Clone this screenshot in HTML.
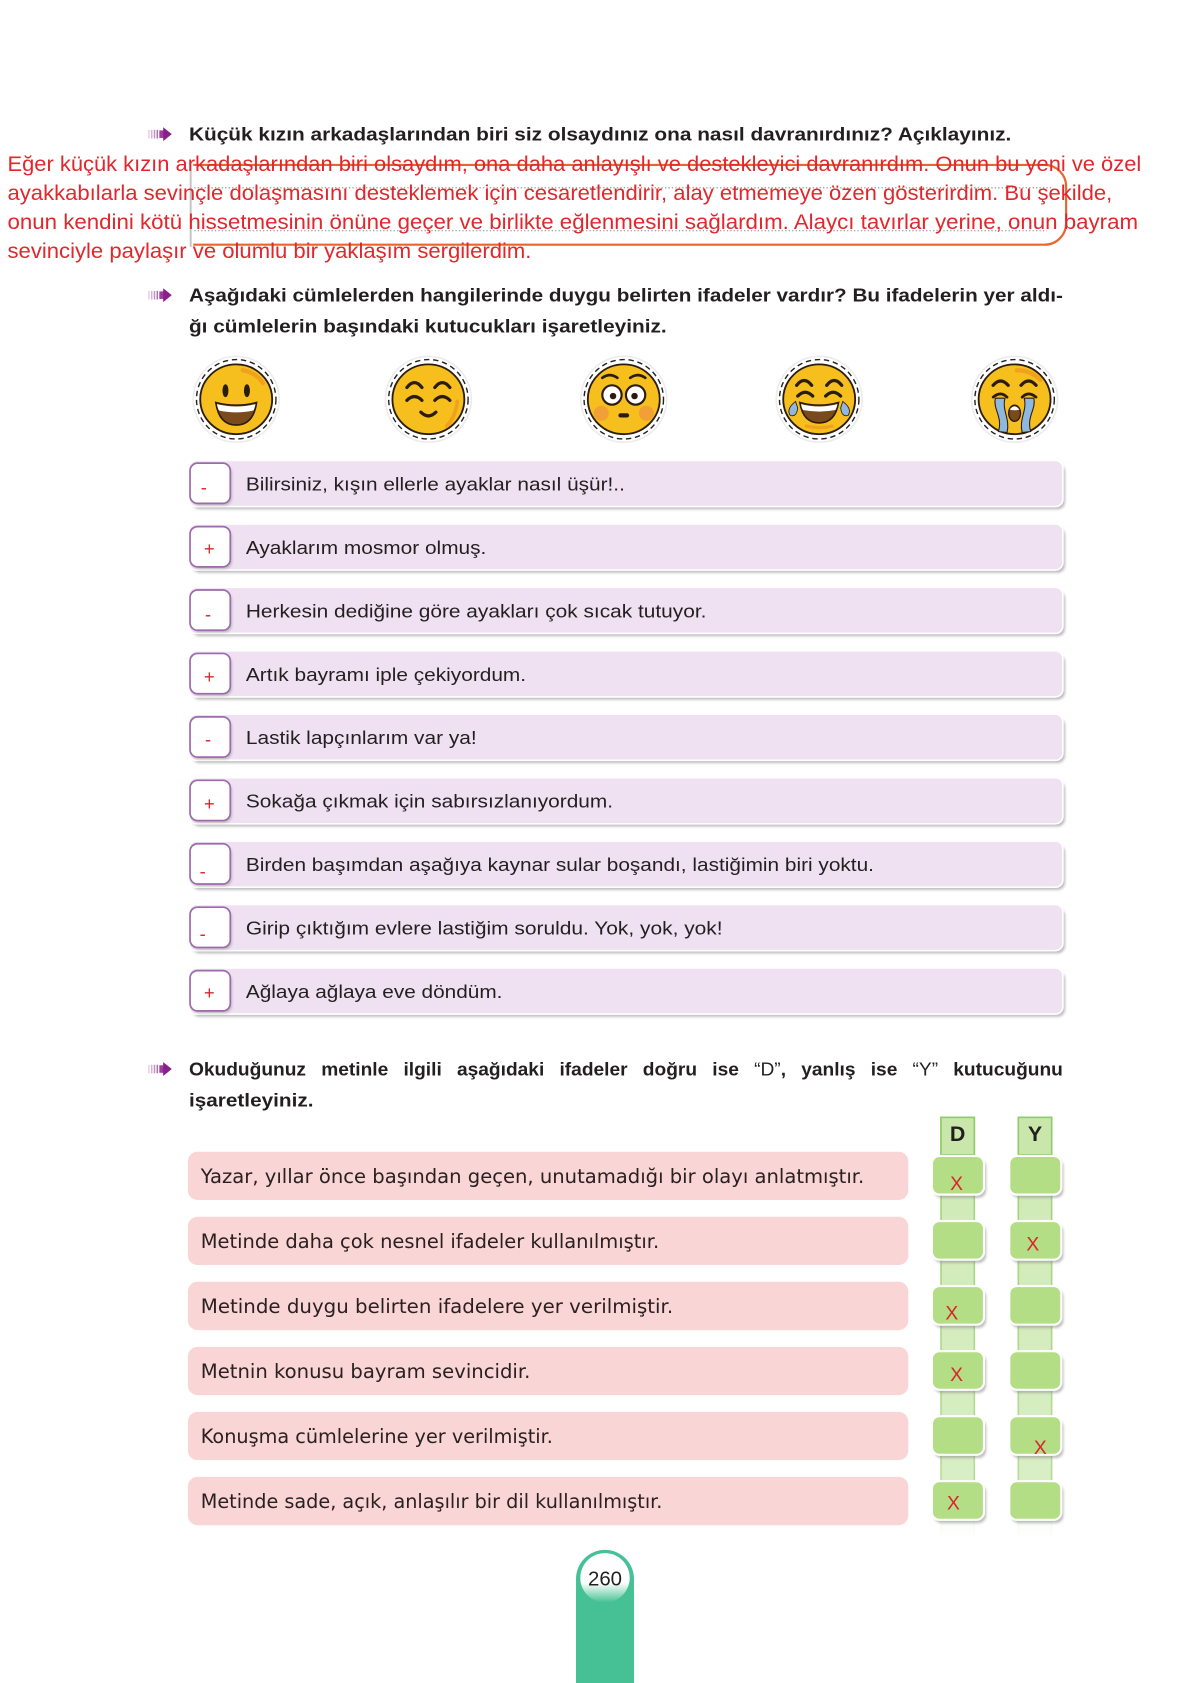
<!DOCTYPE html>
<html><head><meta charset="utf-8">
<style>
html,body{margin:0;padding:0;background:#fff;}
body{width:1181px;height:1683px;overflow:hidden;}
svg{display:block;}
.h{font-family:"Liberation Sans",Arial,sans-serif;font-weight:bold;fill:#231f20;}
.r{font-family:"Liberation Sans",Arial,sans-serif;fill:#e3262b;}
.t{font-family:"Liberation Sans",Arial,sans-serif;fill:#231f20;}
.p{font-family:"DejaVu Sans","Liberation Sans",sans-serif;fill:#2a2020;}
.s{font-family:"Liberation Sans",Arial,sans-serif;fill:#d8262b;}
</style></head><body>
<svg width="1181" height="1683" viewBox="0 0 1100 1568" preserveAspectRatio="none" xmlns="http://www.w3.org/2000/svg">
<defs>
  <filter id="sh" x="-5%" y="-30%" width="110%" height="170%"><feGaussianBlur stdDeviation="1.3"/></filter>
  <linearGradient id="strip" x1="0" x2="0" y1="0" y2="1"><stop offset="0" stop-color="#cfeab4"/><stop offset="0.85" stop-color="#d8eec4"/><stop offset="1" stop-color="#ffffff" stop-opacity="0"/></linearGradient>
  <linearGradient id="stripb" x1="0" x2="0" y1="0" y2="1"><stop offset="0" stop-color="#9dd077"/><stop offset="0.85" stop-color="#b5dd98"/><stop offset="1" stop-color="#ffffff" stop-opacity="0"/></linearGradient>
  <linearGradient id="circ" x1="0" x2="0" y1="0" y2="1"><stop offset="0" stop-color="#fff"/><stop offset="0.6" stop-color="#fff"/><stop offset="1" stop-color="#fff" stop-opacity="0"/></linearGradient>
  <g id="arrow">
    <rect x="0" y="-4" width="1.4" height="8" fill="#e6cde6"/>
    <rect x="2.6" y="-4" width="1.4" height="8" fill="#d7b0d7"/>
    <rect x="5.2" y="-4" width="1.4" height="8" fill="#c58fc5"/>
    <rect x="7.8" y="-4" width="1.4" height="8" fill="#b36db3"/>
    <rect x="10.4" y="-3.5" width="4" height="7" fill="#9b3f9b"/>
    <polygon points="14,-6.5 22,0 14,6.5" fill="#8a1e8a"/>
  </g>
  <g id="base">
    <circle r="40" fill="#fff" stroke="#ececec" stroke-width="1.5"/>
    <circle r="37" fill="none" stroke="#222" stroke-width="1.3" stroke-dasharray="5 3.5"/>
    <ellipse rx="33.5" ry="32.5" fill="#f6bf1e" stroke="#2b1d0e" stroke-width="1.7"/>
  </g>
  <g id="lrow">
    <rect x="179" y="3.5" width="813" height="42" rx="7" fill="#999" opacity="0.65" filter="url(#sh)"/>
    <rect x="176" y="0" width="814" height="43" rx="7" fill="#efe1f2" stroke="#fff" stroke-width="1.5"/>
    <rect x="179" y="5" width="37" height="37" rx="7" fill="#999" opacity="0.6" filter="url(#sh)"/>
    <rect x="177" y="2.5" width="37.5" height="37.5" rx="7" fill="#fff" stroke="#9d6bab" stroke-width="1.6"/>
  </g>
  <g id="gbox">
    <rect x="870" y="3" width="48.5" height="36" rx="7" fill="#888" opacity="0.55" filter="url(#sh)"/>
    <rect x="868" y="0" width="48.5" height="36" rx="7" fill="#b3de86" stroke="#fff" stroke-width="2"/>
    <rect x="942" y="3" width="48.5" height="36" rx="7" fill="#888" opacity="0.55" filter="url(#sh)"/>
    <rect x="940" y="0" width="48.5" height="36" rx="7" fill="#b3de86" stroke="#fff" stroke-width="2"/>
  </g>
</defs>

<!-- Q1 -->
<use href="#arrow" x="138" y="125"/>
<text class="h" x="176" y="131" font-size="17.5" textLength="766" lengthAdjust="spacingAndGlyphs">Küçük kızın arkadaşlarından biri siz olsaydınız ona nasıl davranırdınız? Açıklayınız.</text>

<!-- dotted lines & box -->
<line x1="181" y1="175" x2="979" y2="175" stroke="#888" stroke-width="1" stroke-dasharray="1.2 2"/>
<line x1="181" y1="215" x2="975" y2="215" stroke="#888" stroke-width="1" stroke-dasharray="1.2 2"/>
<line x1="177.6" y1="153" x2="177.6" y2="230" stroke="#c4c4c4" stroke-width="1.8"/>
<path d="M180,153.7 H973 A20,20 0 0 1 993,173.7 V208 A20,20 0 0 1 973,228 H180" fill="none" stroke="#e8652d" stroke-width="2"/>

<text class="r" x="7" y="159.5" font-size="20" textLength="1056" lengthAdjust="spacingAndGlyphs">Eğer küçük kızın arkadaşlarından biri olsaydım, ona daha anlayışlı ve destekleyici davranırdım. Onun bu yeni ve özel</text>
<text class="r" x="7" y="186.5" font-size="20" textLength="1029" lengthAdjust="spacingAndGlyphs">ayakkabılarla sevinçle dolaşmasını desteklemek için cesaretlendirir, alay etmemeye özen gösterirdim. Bu şekilde,</text>
<text class="r" x="7" y="213.5" font-size="20" textLength="1053" lengthAdjust="spacingAndGlyphs">onun kendini kötü hissetmesinin önüne geçer ve birlikte eğlenmesini sağlardım. Alaycı tavırlar yerine, onun bayram</text>
<text class="r" x="7" y="240.5" font-size="20" textLength="488" lengthAdjust="spacingAndGlyphs">sevinciyle paylaşır ve olumlu bir yaklaşım sergilerdim.</text>

<!-- Q2 -->
<use href="#arrow" x="138" y="275"/>
<text class="h" x="176" y="281" font-size="17.5" textLength="814" lengthAdjust="spacingAndGlyphs">Aşağıdaki cümlelerden hangilerinde duygu belirten ifadeler vardır? Bu ifadelerin yer aldı-</text>
<text class="h" x="176" y="310" font-size="17.5" textLength="445" lengthAdjust="spacingAndGlyphs">ğı cümlelerin başındaki kutucukları işaretleyiniz.</text>

<!-- Emojis -->
<g transform="translate(220,372)">
  <use href="#base"/>
  <path d="M6,-27 Q18,-25 25,-15" stroke="#f0a21c" stroke-width="4" fill="none" stroke-linecap="round"/>
  <ellipse cx="-10" cy="-8" rx="2.8" ry="6" fill="#2b1d0e"/>
  <ellipse cx="10" cy="-8" rx="2.8" ry="6" fill="#2b1d0e"/>
  <path d="M-19,3 Q0,8 19,3 Q16,24 0,24 Q-16,24 -19,3Z" fill="#7b4a1c" stroke="#2b1d0e" stroke-width="1.5"/>
  <path d="M-18,4.5 Q0,9 18,4.5 Q17,9 16,10.5 Q0,14 -16,10.5 Q-17,9 -18,4.5Z" fill="#fff"/>
</g>
<g transform="translate(399,372)">
  <use href="#base"/>
  <path d="M27,2 Q25,17 17,25" stroke="#f0a21c" stroke-width="3.5" fill="none" stroke-linecap="round"/>
  <path d="M-20,-11 Q-13,-20 -6,-11" stroke="#2b1d0e" stroke-width="3" fill="none" stroke-linecap="round"/>
  <path d="M6,-11 Q13,-20 20,-11" stroke="#2b1d0e" stroke-width="3" fill="none" stroke-linecap="round"/>
  <path d="M-20,1 Q-13,-6 -6,1" stroke="#2b1d0e" stroke-width="3" fill="none" stroke-linecap="round"/>
  <path d="M6,1 Q13,-6 20,1" stroke="#2b1d0e" stroke-width="3" fill="none" stroke-linecap="round"/>
  <path d="M-7,12 Q0,19 7,12" stroke="#2b1d0e" stroke-width="3" fill="none" stroke-linecap="round"/>
</g>
<g transform="translate(581,372)">
  <use href="#base"/>
  <path d="M-20,-20 Q-13,-25 -6,-20" stroke="#2b1d0e" stroke-width="2.5" fill="none" stroke-linecap="round"/>
  <path d="M6,-20 Q13,-25 20,-20" stroke="#2b1d0e" stroke-width="2.5" fill="none" stroke-linecap="round"/>
  <circle cx="-11" cy="-4" r="9" fill="#fff" stroke="#2b1d0e" stroke-width="2"/>
  <circle cx="11" cy="-4" r="9" fill="#fff" stroke="#2b1d0e" stroke-width="2"/>
  <circle cx="-10" cy="-3" r="3" fill="#2b1d0e"/>
  <circle cx="10" cy="-3" r="3" fill="#2b1d0e"/>
  <circle cx="-21" cy="13" r="7" fill="#f0a034"/>
  <circle cx="21" cy="13" r="7" fill="#f0a034"/>
  <rect x="-5" y="13" width="10" height="4" rx="2" fill="#2b1d0e"/>
</g>
<g transform="translate(763,372)">
  <use href="#base"/>
  <path d="M-12,25 Q0,28 12,25" stroke="#f0a21c" stroke-width="3" fill="none" stroke-linecap="round"/>
  <path d="M-21,-13 Q-14,-22 -7,-13" stroke="#2b1d0e" stroke-width="3" fill="none" stroke-linecap="round"/>
  <path d="M7,-13 Q14,-22 21,-13" stroke="#2b1d0e" stroke-width="3" fill="none" stroke-linecap="round"/>
  <path d="M-20,-3 Q-13,-10 -6,-3" stroke="#2b1d0e" stroke-width="3" fill="none" stroke-linecap="round"/>
  <path d="M6,-3 Q13,-10 20,-3" stroke="#2b1d0e" stroke-width="3" fill="none" stroke-linecap="round"/>
  <path d="M-18,3 Q0,8 18,3 Q15,22 0,22 Q-15,22 -18,3Z" fill="#7b4a1c" stroke="#2b1d0e" stroke-width="1.5"/>
  <path d="M-17,4.5 Q0,9 17,4.5 Q16,9 15,10 Q0,13 -15,10 Q-16,9 -17,4.5Z" fill="#fff"/>
  <path d="M-22,2 Q-31,9 -27,15 Q-21,17 -20,8Z" fill="#8fb8e0" stroke="#2b1d0e" stroke-width="0.8"/>
  <path d="M22,2 Q31,9 27,15 Q21,17 20,8Z" fill="#8fb8e0" stroke="#2b1d0e" stroke-width="0.8"/>
</g>
<g transform="translate(945,372)">
  <use href="#base"/>
  <path d="M2,-27 Q16,-27 24,-18" stroke="#f0a21c" stroke-width="4" fill="none" stroke-linecap="round"/>
  <path d="M-20,-13 Q-13,-21 -6,-13" stroke="#2b1d0e" stroke-width="3" fill="none" stroke-linecap="round"/>
  <path d="M6,-13 Q13,-21 20,-13" stroke="#2b1d0e" stroke-width="3" fill="none" stroke-linecap="round"/>
  <path d="M-18,-1 C-20,10 -11,16 -15,30 L-7,31 C-4,18 -12,10 -9,-1Z" fill="#8fb8e0" stroke="#2b1d0e" stroke-width="1"/>
  <path d="M18,-1 C20,10 11,16 15,30 L7,31 C4,18 12,10 9,-1Z" fill="#8fb8e0" stroke="#2b1d0e" stroke-width="1"/>
  <path d="M-20,-2 Q-13,-8 -7,-2" stroke="#2b1d0e" stroke-width="2.5" fill="none" stroke-linecap="round"/>
  <path d="M7,-2 Q13,-8 20,-2" stroke="#2b1d0e" stroke-width="2.5" fill="none" stroke-linecap="round"/>
  <ellipse cx="0" cy="13" rx="5.5" ry="7.5" fill="#7b4a1c" stroke="#2b1d0e" stroke-width="1.3"/>
  <path d="M-4.5,9.5 Q0,4 4.5,9.5 Q0,11 -4.5,9.5Z" fill="#fff"/>
</g>

<!-- List rows -->
<g transform="translate(0,429)">
  <use href="#lrow"/>
  <text class="s" x="187" y="31" font-size="17">-</text>
  <text class="t" x="229" y="28" font-size="17" textLength="353" lengthAdjust="spacingAndGlyphs">Bilirsiniz, kışın ellerle ayaklar nasıl üşür!..</text>
</g>
<g transform="translate(0,488.1)">
  <use href="#lrow"/>
  <text class="s" x="190" y="29" font-size="17">+</text>
  <text class="t" x="229" y="28" font-size="17" textLength="224" lengthAdjust="spacingAndGlyphs">Ayaklarım mosmor olmuş.</text>
</g>
<g transform="translate(0,547.2)">
  <use href="#lrow"/>
  <text class="s" x="191" y="31" font-size="17">-</text>
  <text class="t" x="229" y="28" font-size="17" textLength="429" lengthAdjust="spacingAndGlyphs">Herkesin dediğine göre ayakları çok sıcak tutuyor.</text>
</g>
<g transform="translate(0,606.3)">
  <use href="#lrow"/>
  <text class="s" x="190" y="30" font-size="17">+</text>
  <text class="t" x="229" y="28" font-size="17" textLength="261" lengthAdjust="spacingAndGlyphs">Artık bayramı iple çekiyordum.</text>
</g>
<g transform="translate(0,665.4)">
  <use href="#lrow"/>
  <text class="s" x="191" y="29" font-size="17">-</text>
  <text class="t" x="229" y="28" font-size="17" textLength="215" lengthAdjust="spacingAndGlyphs">Lastik lapçınlarım var ya!</text>
</g>
<g transform="translate(0,724.5)">
  <use href="#lrow"/>
  <text class="s" x="190" y="30" font-size="17">+</text>
  <text class="t" x="229" y="28" font-size="17" textLength="342" lengthAdjust="spacingAndGlyphs">Sokağa çıkmak için sabırsızlanıyordum.</text>
</g>
<g transform="translate(0,783.6)">
  <use href="#lrow"/>
  <text class="s" x="186" y="34" font-size="17">-</text>
  <text class="t" x="229" y="28" font-size="17" textLength="585" lengthAdjust="spacingAndGlyphs">Birden başımdan aşağıya kaynar sular boşandı, lastiğimin biri yoktu.</text>
</g>
<g transform="translate(0,842.7)">
  <use href="#lrow"/>
  <text class="s" x="186" y="33" font-size="17">-</text>
  <text class="t" x="229" y="28" font-size="17" textLength="444" lengthAdjust="spacingAndGlyphs">Girip çıktığım evlere lastiğim soruldu. Yok, yok, yok!</text>
</g>
<g transform="translate(0,901.8)">
  <use href="#lrow"/>
  <text class="s" x="190" y="29" font-size="17">+</text>
  <text class="t" x="229" y="28" font-size="17" textLength="239" lengthAdjust="spacingAndGlyphs">Ağlaya ağlaya eve döndüm.</text>
</g>

<!-- Q3 -->
<use href="#arrow" x="138" y="996"/>
<text class="h" x="176" y="1002" font-size="17.5" style="word-spacing:9px" textLength="814" lengthAdjust="spacingAndGlyphs">Okuduğunuz metinle ilgili aşağıdaki ifadeler doğru ise <tspan font-weight="normal">“D”</tspan>, yanlış ise <tspan font-weight="normal">“Y”</tspan> kutucuğunu</text>
<text class="h" x="176" y="1031" font-size="17.5" textLength="116" lengthAdjust="spacingAndGlyphs">işaretleyiniz.</text>

<!-- ladder strips -->
<rect x="876.5" y="1041" width="31" height="400" fill="url(#strip)"/>
<rect x="876.5" y="1041" width="31" height="400" fill="none" stroke="url(#stripb)" stroke-width="1.5"/>
<rect x="948.5" y="1041" width="31" height="400" fill="url(#strip)"/>
<rect x="948.5" y="1041" width="31" height="400" fill="none" stroke="url(#stripb)" stroke-width="1.5"/>
<rect x="876.5" y="1041" width="31" height="35" fill="#c9e7ab" stroke="#8fcb6a" stroke-width="1.5"/>
<rect x="948.5" y="1041" width="31" height="35" fill="#c9e7ab" stroke="#8fcb6a" stroke-width="1.5"/>
<text class="h" x="892" y="1063" font-size="20" text-anchor="middle">D</text>
<text class="h" x="964" y="1063" font-size="20" text-anchor="middle">Y</text>

<!-- pink rows -->
<g transform="translate(0,1073)">
  <rect x="175" y="0" width="671" height="45" rx="9" fill="#fad5d5"/>
  <text class="p" x="187" y="29" font-size="18" textLength="618" lengthAdjust="spacingAndGlyphs">Yazar, yıllar önce başından geçen, unutamadığı bir olayı anlatmıştır.</text>
</g>
<g transform="translate(0,1133.6)">
  <rect x="175" y="0" width="671" height="45" rx="9" fill="#fad5d5"/>
  <text class="p" x="187" y="29" font-size="18" textLength="427" lengthAdjust="spacingAndGlyphs">Metinde daha çok nesnel ifadeler kullanılmıştır.</text>
</g>
<g transform="translate(0,1194.2)">
  <rect x="175" y="0" width="671" height="45" rx="9" fill="#fad5d5"/>
  <text class="p" x="187" y="29" font-size="18" textLength="440" lengthAdjust="spacingAndGlyphs">Metinde duygu belirten ifadelere yer verilmiştir.</text>
</g>
<g transform="translate(0,1254.8)">
  <rect x="175" y="0" width="671" height="45" rx="9" fill="#fad5d5"/>
  <text class="p" x="187" y="29" font-size="18" textLength="307" lengthAdjust="spacingAndGlyphs">Metnin konusu bayram sevincidir.</text>
</g>
<g transform="translate(0,1315.4)">
  <rect x="175" y="0" width="671" height="45" rx="9" fill="#fad5d5"/>
  <text class="p" x="187" y="29" font-size="18" textLength="328" lengthAdjust="spacingAndGlyphs">Konuşma cümlelerine yer verilmiştir.</text>
</g>
<g transform="translate(0,1376)">
  <rect x="175" y="0" width="671" height="45" rx="9" fill="#fad5d5"/>
  <text class="p" x="187" y="29" font-size="18" textLength="430" lengthAdjust="spacingAndGlyphs">Metinde sade, açık, anlaşılır bir dil kullanılmıştır.</text>
</g>

<!-- green boxes -->
<use href="#gbox" y="1077"/>
<use href="#gbox" y="1137.6"/>
<use href="#gbox" y="1198.2"/>
<use href="#gbox" y="1258.8"/>
<use href="#gbox" y="1319.4"/>
<use href="#gbox" y="1380"/>

<!-- X marks -->
<g class="s" font-size="18" text-anchor="middle">
  <text x="891" y="1108.5">X</text>
  <text x="962" y="1165">X</text>
  <text x="886.5" y="1229.5">X</text>
  <text x="891" y="1286.5">X</text>
  <text x="969" y="1354.5">X</text>
  <text x="888" y="1406.5">X</text>
</g>

<!-- page number tab -->
<path d="M536.5,1568 V1471 A27,27 0 0 1 590.5,1471 V1568 Z" fill="#46c196"/>
<circle cx="563.5" cy="1470" r="23" fill="url(#circ)"/>
<text class="t" x="563.5" y="1477" font-size="19" text-anchor="middle">260</text>
</svg>
</body></html>
